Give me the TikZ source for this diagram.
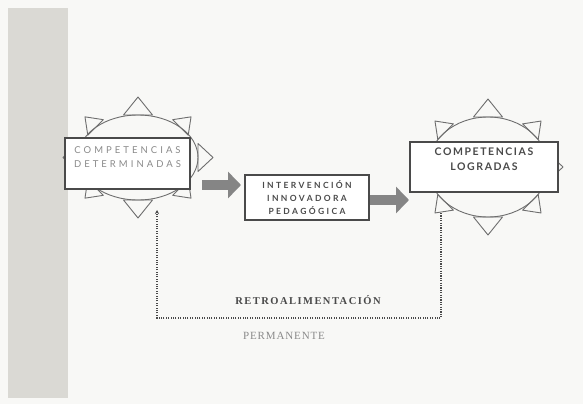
\documentclass[tikz,border=0pt]{standalone}
\usepackage{fontspec}
\setmainfont{Liberation Serif}
\newfontfamily\boxfont{Lato}
\usetikzlibrary{arrows.meta,positioning,calc}
\definecolor{bandgray}{HTML}{DAD9D4}
\definecolor{boxgray}{HTML}{4A4A4A}
\definecolor{sungray}{HTML}{6E6E6E}
\definecolor{lightgray}{HTML}{8A8A8A}
\definecolor{arrowgray}{HTML}{858585}
\definecolor{paper}{HTML}{F8F8F6}

\tikzset{
  box/.style={draw=boxgray, line width=1.2pt, fill=white, inner sep=0pt},
  boxtext/.style={font=\boxfont\bfseries\fontsize{8.5}{13}\selectfont\addfontfeature{LetterSpace=28}, align=center, text=boxgray},
  sunline/.style={draw=sungray, line width=0.9pt, line join=round},
  bigarrow/.style={draw=arrowgray, line width=10pt, -{Triangle[length=13pt, width=26pt]}},
  feedback/.style={draw=boxgray, line width=1.3pt, dash pattern=on 1.1pt off 1.3pt, -{Stealth[length=4pt, width=4pt]}},
  % sun: #1 x radius, #2 y radius
  pics/sun/.style 2 args={code={
    \draw[sunline] (0,0) ellipse [x radius=#1pt, y radius=#2pt];
    \foreach \a/\w/\h in {0/14/15, 45/11/15, 90/14.5/18, 135/11/15, 180/14/15, 225/11/15, 270/14.5/18, 315/11/15}{
      \draw[sunline]
        ({#1*cos(\a) - \w*sin(\a)}, {#2*sin(\a) + \w*cos(\a)})
        -- ({#1*cos(\a) + \h*cos(\a)}, {#2*sin(\a) + \h*sin(\a)})
        -- ({#1*cos(\a) + \w*sin(\a)}, {#2*sin(\a) - \w*cos(\a)}) -- cycle;
    }
  }}
}

\begin{document}
\begin{tikzpicture}[x=1pt, y=-1pt]
  \useasboundingbox[fill=paper] (0,0) rectangle (583,404);
  % grey band on the left
  \fill[bandgray] (8,8) rectangle (68,398);

  % the two suns
  \pic at (138,157.5) {sun={60}{42.5}};
  \pic at (488,167) {sun={60}{50}};

  % boxes
  \node[box, minimum width=125pt, minimum height=51pt] (det) at (127.5,163.5) {};
  \node[boxtext, text=lightgray, font=\boxfont\fontsize{9.5}{14}\selectfont\addfontfeature{LetterSpace=32}] (dettxt) at ([yshift=6pt]det.center) {COMPETENCIAS\\DETERMINADAS};
  \node[box, minimum width=148pt, minimum height=50pt] (log) at (484,167) {};
  \node[boxtext, font=\boxfont\bfseries\fontsize{10.5}{15}\selectfont\addfontfeature{LetterSpace=15}] (logtxt) at ([yshift=7.5pt]log.center) {COMPETENCIAS\\LOGRADAS};
  \node[box, minimum width=124pt, minimum height=45pt] (inno) at (307,197.5) {};
  \node[boxtext] (innotxt) at (inno.center) {INTERVENCIÓN\\INNOVADORA\\PEDAGÓGICA};

  % thick arrows
  \coordinate (a1s) at (202,185);
  \coordinate (a1e) at (241,185);
  \coordinate (a2s) at (370,200);
  \coordinate (a2e) at (409,200);
  \draw[bigarrow] (a1s) -- (a1e);
  \draw[bigarrow] (a2s) -- (a2e);

  % feedback loop
  \coordinate (fbright) at (441,213);
  \coordinate (fbturn) at (441,318);
  \coordinate (fbleft) at (157,210);
  \draw[feedback] (fbright) -- (fbturn) -| (fbleft);
  \node[font=\bfseries\fontsize{10.5}{12}\selectfont\addfontfeature{LetterSpace=14}, text=boxgray] (retro) at (308,300) {RETROALIMENTACIÓN};
  \node[font=\fontsize{11}{13}\selectfont\addfontfeature{LetterSpace=8}, text=lightgray] (perm) at (284,336) {PERMANENTE};
\end{tikzpicture}
\end{document}
